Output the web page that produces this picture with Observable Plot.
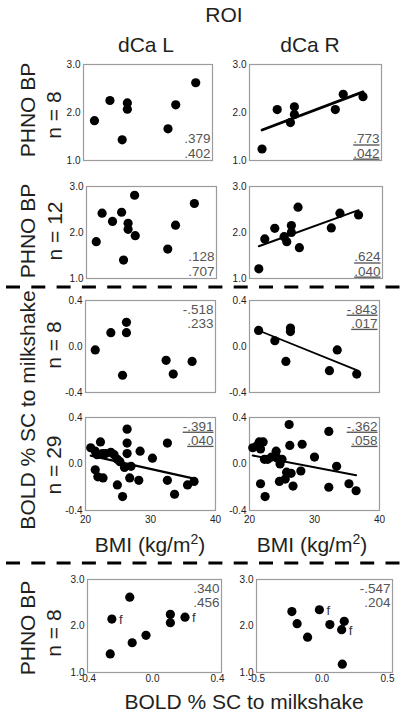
<!DOCTYPE html>
<html><head><meta charset="utf-8">
<script src="https://cdn.jsdelivr.net/npm/d3@7"></script>
<script src="https://cdn.jsdelivr.net/npm/@observablehq/plot@0.6"></script>
<style>
body{margin:0;background:#fff;}
#fig{position:relative;width:408px;height:714px;overflow:hidden;background:#fff;}
#fig svg{position:absolute;}
</style>
</head><body><div id="fig"></div>
<script>
// ---------- data ----------
const roi = ["dCa L", "dCa R"];
const rowTitles = ["PHNO BP", "PHNO BP", "BOLD % SC to milkshake", "PHNO BP"];
const rowNs = ["n = 8", "n = 12", "n = 8", "n = 29", "n = 8"];
const bmiTicks = [20, 30, 40];
const bpTicks = [1, 2, 3];
const boldTicks = [-0.4, 0, 0.4];
const boldTicksL = [-0.4, 0, 0.4];
const boldTicksR = [-0.5, 0, 0.5];

// Row 1: PHNO BP vs BMI (n = 8)
const r1L_bmi = [21.7, 24.1, 26.0, 26.8, 26.8, 33.1, 34.3, 37.4];
const r1L_bp  = [1.83, 2.25, 1.43, 2.20, 2.07, 1.66, 2.16, 2.62];
const r1R_bmi = [21.9, 24.2, 26.2, 26.8, 26.8, 33.0, 34.2, 37.2];
const r1R_bp  = [1.24, 2.06, 1.79, 2.12, 1.96, 2.06, 2.38, 2.33];
// Row 2: PHNO BP vs BMI (n = 12)
const r2L_bmi = [21.5, 22.4, 24.0, 25.4, 25.7, 26.4, 26.4, 27.4, 27.5, 32.5, 33.7, 36.6];
const r2L_bp  = [1.80, 2.42, 2.24, 2.44, 1.40, 2.20, 2.07, 2.81, 1.93, 1.64, 2.16, 2.63];
const r2R_bmi = [21.4, 22.3, 23.8, 25.2, 25.6, 26.3, 26.3, 27.3, 27.5, 32.3, 33.6, 36.4];
const r2R_bp  = [1.21, 1.86, 2.09, 1.91, 1.80, 2.15, 2.00, 2.55, 1.67, 2.10, 2.42, 2.38];
// Row 3: BOLD vs BMI (n = 8)
const r3L_bmi  = [21.5, 23.9, 25.7, 26.3, 26.3, 32.4, 33.5, 36.4];
const r3L_bold = [-0.03, 0.12, -0.25, 0.21, 0.12, -0.12, -0.24, -0.13];
const r3R_bmi  = [21.4, 23.9, 25.6, 26.3, 26.3, 32.3, 33.5, 36.5];
const r3R_bold = [0.14, 0.05, -0.13, 0.16, 0.13, -0.21, -0.03, -0.24];
// Row 4: BOLD vs BMI (n = 29)
const r4L_bmi  = [20.8, 21.5, 22.3, 21.8, 22.6, 23.1, 23.9, 24.4, 24.9, 25.3, 21.5, 21.9, 22.7, 26.4, 26.4, 26.4, 26.0, 27.0, 28.4, 30.3, 24.9, 25.7, 26.8, 28.2, 32.6, 32.6, 33.7, 35.7, 36.7];
const r4L_bold = [0.14, 0.11, 0.19, 0.08, 0.09, 0.09, 0.10, 0.08, 0.04, 0.02, -0.05, -0.11, -0.12, 0.30, 0.18, 0.09, -0.03, -0.02, 0.11, 0.05, -0.18, -0.28, -0.12, -0.14, 0.18, -0.14, -0.26, -0.18, -0.15];
const r4R_bmi  = [20.5, 21.2, 21.5, 22.1, 21.7, 22.3, 22.8, 23.4, 24.1, 24.3, 25.0, 24.7, 26.1, 26.2, 28.1, 30.0, 25.7, 26.4, 27.9, 25.5, 24.6, 21.7, 22.4, 26.7, 32.2, 33.4, 32.2, 35.3, 36.4];
const r4R_bold = [0.14, 0.16, 0.19, 0.19, 0.13, 0.04, 0.04, 0.06, 0.11, 0.05, 0.04, 0.00, 0.34, 0.16, 0.17, 0.06, -0.07, -0.08, -0.06, -0.13, -0.15, -0.17, -0.28, -0.19, 0.28, -0.02, -0.20, -0.17, -0.23];
// Row 5: PHNO BP vs BOLD (n = 8)
const r5L_bold = [-0.14, -0.25, -0.26, -0.125, -0.04, 0.11, 0.11, 0.20];
const r5L_bp   = [2.62, 2.15, 1.40, 1.64, 1.80, 2.25, 2.07, 2.19];
const r5L_flag = ["", "f", "", "", "", "", "", "f"];
const r5R_bold = [-0.23, -0.19, -0.11, -0.02, 0.06, 0.17, 0.15, 0.155];
const r5R_bp   = [2.31, 2.05, 1.76, 2.35, 2.03, 2.10, 1.92, 1.18];
const r5R_flag = ["", "", "", "f", "", "", "f", ""];

// correlation stats (r, p) per row [left, right]
const rVals = [[".379", ".773"], [".128", ".624"], ["-.518", "-.843"], ["-.391", "-.362"], [".340", "-.547"]];
const pVals = [[".402", ".042"], [".707", ".040"], [".233", ".017"], [".040", ".058"], [".456", ".204"]];
const underlined = [[false, true], [false, true], [false, true], [true, true], [false, false]];
const showFit = [[false, true], [false, true], [false, true], [true, true], [false, false]];

// ---------- layout ----------
const SANS = '"Liberation Sans", Arial, sans-serif';
const NARROW = '"Liberation Sans Narrow", "Arial Narrow", "Liberation Sans", sans-serif';
const fig = document.getElementById("fig");
const fmt1 = d => d.toFixed(1);

function panel(o) {
  const mL = 30, mR = 6, mT = 8, mB = 18;
  const data = o.xs.map((x, i) => ({x, y: o.ys[i], f: o.flags ? o.flags[i] : ""}));
  const marks = [
    Plot.frame({stroke: "#9c9c9c", strokeWidth: 1.2}),
    Plot.axisY(o.yTicks, {tickSize: 0, tickPadding: 3, tickFormat: fmt1, label: null, fontSize: 10, fill: "#222"})
  ];
  if (o.xTicks) marks.push(Plot.axisX(o.xTicks, {tickSize: 0, tickPadding: o.xPad ?? 3, tickFormat: o.xFmt, label: null, fontSize: 10, fill: "#222"}));
  if (o.fit) marks.push(Plot.linearRegressionY(data, {x: "x", y: "y", ci: 0, stroke: "#000", strokeWidth: o.fitWidth}));
  marks.push(Plot.dot(data, {x: "x", y: "y", r: 4.6, fill: "#000", stroke: "none"}));
  if (o.flags) marks.push(Plot.text(data.filter(d => d.f), {x: "x", y: "y", text: "f", dx: 7, dy: 1, textAnchor: "start", fontSize: 13, fill: "#333"}));
  const top = o.statTop;
  marks.push(Plot.text([o.stat], {text: d => d, frameAnchor: top ? "top-right" : "bottom-right", dx: -2, dy: top ? 3 : -3,
    fontSize: 13.5, lineHeight: 1.05, fill: "#555"}));
  const svg = Plot.plot({
    width: o.w + mL + mR, height: o.h + mT + mB,
    marginLeft: mL, marginRight: mR, marginTop: mT, marginBottom: mB,
    x: {domain: o.xDomain, insetRight: o.insetRight ?? 0, axis: o.xTicks ? undefined : null},
    y: {domain: o.yDomain},
    style: {fontFamily: NARROW, fontSize: "10px", color: "#222", background: "transparent", overflow: "visible"},
    marks
  });
  svg.style.position = "absolute";
  svg.style.left = (o.x - mL) + "px";
  svg.style.top = (o.y - mT) + "px";
  if (o.underline) d3.select(svg).selectAll('g[aria-label="text"] text').style("text-decoration", "underline");
  fig.appendChild(svg);
}

const rows = [
  {y: 64, h: 96, L: {x: 83, w: 129}, R: {x: 249, w: 132}, xs: [r1L_bmi, r1R_bmi], ys: [r1L_bp, r1R_bp], yDomain: [1, 3], yTicks: bpTicks, statTop: false, fitW: [0, 2.8]},
  {y: 186, h: 92, L: {x: 86, w: 130}, R: {x: 249, w: 133}, xs: [r2L_bmi, r2R_bmi], ys: [r2L_bp, r2R_bp], yDomain: [1, 3], yTicks: bpTicks, statTop: false, fitW: [0, 2]},
  {y: 300, h: 92, L: {x: 85, w: 130}, R: {x: 249, w: 130}, xs: [r3L_bmi, r3R_bmi], ys: [r3L_bold, r3R_bold], yDomain: [-0.4, 0.4], yTicks: boldTicks, statTop: true, fitW: [0, 1.8]},
  {y: 417, h: 93, L: {x: 85, w: 130}, R: {x: 249, w: 130}, xs: [r4L_bmi, r4R_bmi], ys: [r4L_bold, r4R_bold], yDomain: [-0.4, 0.4], yTicks: boldTicks, statTop: true, fitW: [2.2, 2], xTicks: [bmiTicks, bmiTicks], xFmt: d => String(d), xPad: 5},
  {y: 579, h: 93, L: {x: 87, w: 134}, R: {x: 256, w: 136}, xs: [r5L_bold, r5R_bold], ys: [r5L_bp, r5R_bp], yDomain: [1, 3], yTicks: bpTicks, statTop: true, fitW: [0, 0], xTicks: [boldTicksL, boldTicksR], xFmt: fmt1, xPad: 2, flags: [r5L_flag, r5R_flag], insetR: [4, 5], xDomains: [[-0.4, 0.4], [-0.5, 0.5]]}
];

rows.forEach((row, ri) => {
  ["L", "R"].forEach((side, si) => {
    panel({
      x: row[side].x, y: row.y, w: row[side].w, h: row.h,
      xDomain: row.xDomains ? row.xDomains[si] : [20, 40],
      yDomain: row.yDomain, yTicks: row.yTicks,
      xTicks: row.xTicks ? row.xTicks[si] : null, xFmt: row.xFmt, xPad: row.xPad,
      insetRight: row.insetR ? row.insetR[si] : 0,
      xs: row.xs[si], ys: row.ys[si],
      flags: row.flags ? row.flags[si] : null,
      fit: showFit[ri][si], fitWidth: row.fitW[si],
      stat: rVals[ri][si] + "\n" + pVals[ri][si], statTop: row.statTop,
      underline: underlined[ri][si]
    });
  });
});

// ---------- overlay labels & separators ----------
const ov = d3.select(fig).append("svg").attr("width", 408).attr("height", 714)
  .style("left", "0px").style("top", "0px").style("font-family", SANS).attr("fill", "#231f20");

function label(txt, x, y, size = 21, rot = false) {
  return ov.append("text").attr("text-anchor", "middle").attr("font-size", size)
    .attr("transform", `translate(${x},${y})` + (rot ? " rotate(-90)" : "")).text(txt);
}
label("ROI", 224, 22);
label(roi[0], 146, 52);
label(roi[1], 310, 52);

label(rowTitles[0], 35, 110, 21, true);
label(rowNs[0], 61, 115, 21, true);
label(rowTitles[1], 35, 231, 21, true);
label(rowNs[1], 62, 231, 21, true);
label(rowTitles[2], 35, 410, 21, true);
label(rowNs[2], 61, 345, 21, true);
label(rowNs[3], 61, 465, 21, true);
label(rowTitles[3], 35, 628, 21, true);
label(rowNs[4], 61, 633, 21, true);

[150, 312].forEach(cx => {
  const t = ov.append("text").attr("text-anchor", "middle").attr("font-size", 21).attr("x", cx).attr("y", 552);
  t.append("tspan").text("BMI (kg/m");
  t.append("tspan").attr("font-size", 14).attr("dy", -8).text("2");
  t.append("tspan").attr("dy", 8).text(")");
});
label("BOLD % SC to milkshake", 244, 709);

[287, 563].forEach(yy => {
  ov.append("line").attr("x1", 6).attr("x2", 408).attr("y1", yy).attr("y2", yy)
    .attr("stroke", "#000").attr("stroke-width", 3).attr("stroke-dasharray", "14 11.3");
});
</script></body></html>
